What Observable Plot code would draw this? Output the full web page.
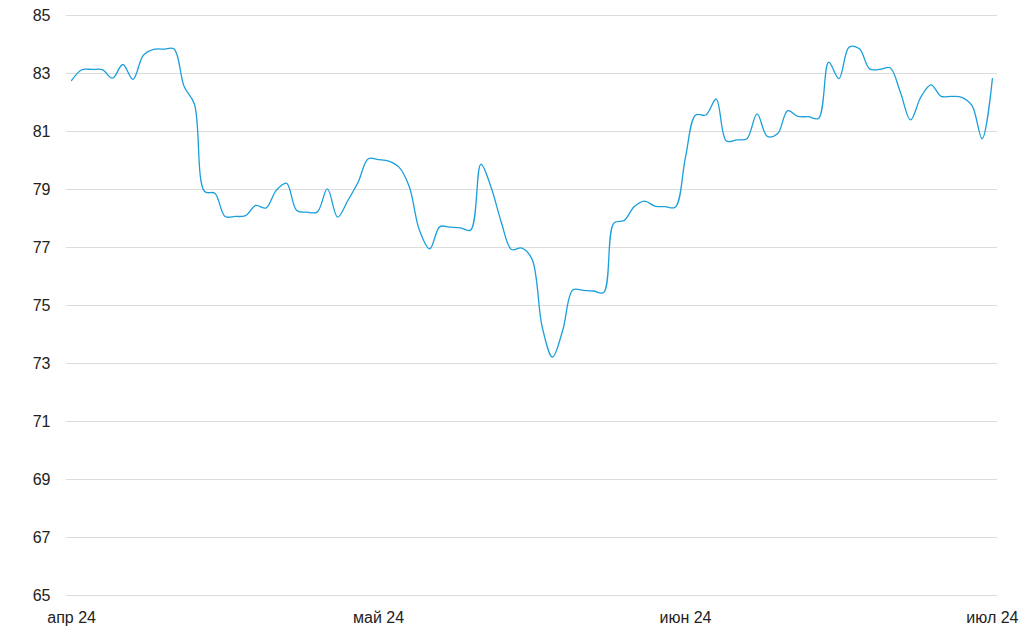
<!DOCTYPE html>
<html>
<head>
<meta charset="utf-8">
<script src="https://cdn.jsdelivr.net/npm/d3@7"></script>
<script src="https://cdn.jsdelivr.net/npm/@observablehq/plot@0.6"></script>
<style>
  html, body { margin: 0; padding: 0; background: #fff; }
  #chart svg { display: block; }
</style>
</head>
<body>
<div id="chart"></div>
<script>
// Daily values, 1 Apr 2024 (index 0) to 1 Jul 2024 (index 90)
const values = [
  82.76, 83.13, 83.14, 83.13, 82.84, 83.31, 82.80, 83.62, 83.83, 83.84,
  83.85, 82.55, 81.95, 78.93, 78.87, 78.07, 78.07, 78.10, 78.45, 78.36,
  78.97, 79.22, 78.28, 78.22, 78.22, 79.02, 78.05, 78.62, 79.25, 80.06,
  80.03, 79.98, 79.77, 79.10, 77.59, 76.95, 77.72, 77.70, 77.68, 77.60,
  79.87, 79.08, 77.87, 76.93, 76.98, 76.60, 74.25, 73.22, 74.14, 75.54,
  75.52, 75.50, 75.45, 77.84, 77.93, 78.41, 78.60, 78.43, 78.41, 78.39,
  80.11, 81.57, 81.57, 82.12, 80.67, 80.71, 80.75, 81.61, 80.83, 80.92,
  81.72, 81.52, 81.51, 81.45, 83.39, 82.82, 83.91, 83.85, 83.16, 83.14,
  83.20, 82.36, 81.40, 82.18, 82.61, 82.21, 82.21, 82.18, 81.90, 80.75,
  82.82
];
const tickIndex = [0, 30, 60, 90];
const tickLabels = ["апр 24", "май 24", "июн 24", "июл 24"];
const yTicks = [65, 67, 69, 71, 73, 75, 77, 79, 81, 83, 85];

const data = values.map((v, i) => ({i, v}));

const chart = Plot.plot({
  width: 1024,
  height: 634,
  marginLeft: 66,
  marginRight: 27,
  marginTop: 15,
  marginBottom: 39,
  style: {fontFamily: "'Liberation Sans', Arial, sans-serif", fontSize: "16px", color: "#222", background: "#fff"},
  x: {domain: [-0.5, values.length - 0.5], ticks: tickIndex, tickFormat: d => tickLabels[tickIndex.indexOf(d)]},
  y: {domain: [65, 85], ticks: yTicks},
  marks: [
    Plot.ruleY(yTicks, {stroke: "#dcdcdc", strokeWidth: 1}),
    Plot.axisY({ticks: yTicks, tickSize: 0, tickPadding: 16, label: null, fontSize: 16}),
    Plot.axisX({ticks: tickIndex, tickSize: 0, tickPadding: 16, label: null, fontSize: 16,
      tickFormat: d => tickLabels[tickIndex.indexOf(d)]}),
    Plot.line(data, {x: "i", y: "v", stroke: "#1a9fdb", strokeWidth: 1.3, curve: "catmull-rom"})
  ]
});
document.getElementById("chart").appendChild(chart);
</script>
</body>
</html>
